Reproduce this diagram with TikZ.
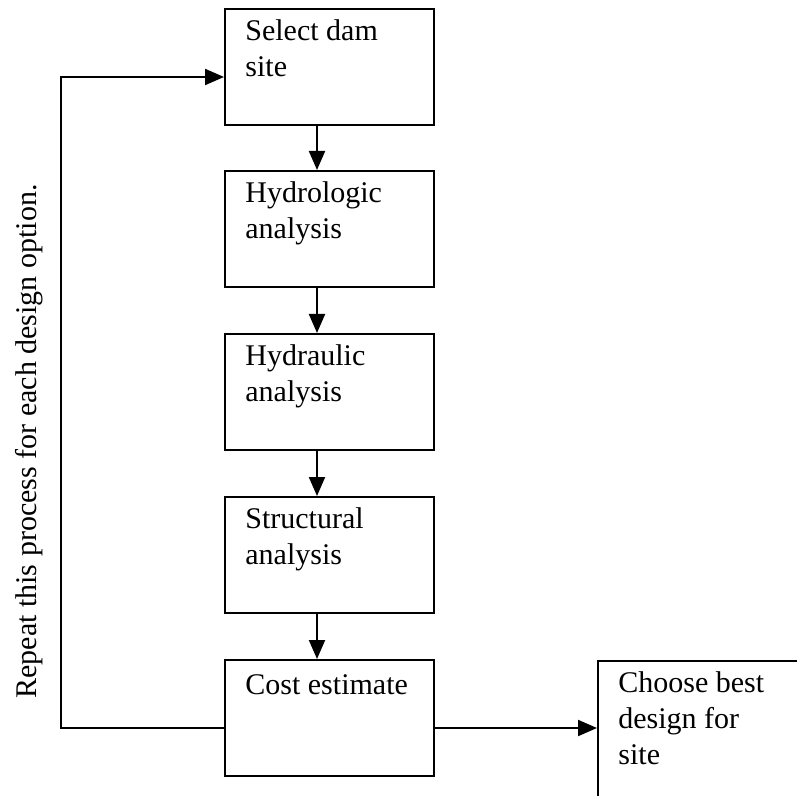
\documentclass[tikz,border=0pt]{standalone}
\usepackage{fontspec}
\setmainfont{Liberation Serif}
\usetikzlibrary{arrows.meta,calc}
\begin{document}
\begin{tikzpicture}[x=0.5pt,y=-0.5pt,
 box/.style={draw,line width=1pt,minimum width=104.5pt,minimum height=58pt,inner sep=0pt,anchor=north west},
 txt/.style={anchor=north west,inner sep=0pt,align=left,font=\fontsize{15}{18}\selectfont,execute at begin node=\strut},
 conn/.style={line width=1pt,-{Triangle[length=9.5pt,width=8pt]}},
 sidelabel/.style={rotate=90,anchor=base,inner sep=0pt,font=\fontsize{15}{18}\selectfont}]
\useasboundingbox (0,0) rectangle (797,796);
\node[box] (b1) at (224,8) {};
\node[box] (b2) at (224,170) {};
\node[box] (b3) at (224,333) {};
\node[box] (b4) at (224,496) {};
\node[box] (b5) at (224,659) {};
\node[box,minimum width=110pt,minimum height=80pt] (r) at (597,660) {};
\node[txt] (t1) at ($(b1.north west)+(21,11)$) {Select dam\\site};
\node[txt] (t2) at ($(b2.north west)+(21,11)$) {Hydrologic\\analysis};
\node[txt] (t3) at ($(b3.north west)+(21,11)$) {Hydraulic\\analysis};
\node[txt] (t4) at ($(b4.north west)+(21,11)$) {Structural\\analysis};
\node[txt] (t5) at ($(b5.north west)+(21,10)$) {Cost estimate};
\node[txt] (t6) at ($(r.north west)+(21,11)$) {Choose best\\design for\\site};
\node[sidelabel] (loopl) at (36,441.5) {Repeat this process for each design option.};
\coordinate (ax) at (317,0);
\coordinate (lx) at (61,0);
\coordinate (ly) at (0,77);
\coordinate (ry) at (0,728);
\draw[conn] (b1.south -| ax) -- (b2.north -| ax);
\draw[conn] (b2.south -| ax) -- (b3.north -| ax);
\draw[conn] (b3.south -| ax) -- (b4.north -| ax);
\draw[conn] (b4.south -| ax) -- (b5.north -| ax);
\draw[conn] (b5.east |- ry) -- (r.west |- ry);
\draw[conn] (b5.west |- ry) -- (lx |- ry) -- (lx |- ly) -- (b1.west |- ly);
\end{tikzpicture}
\end{document}
